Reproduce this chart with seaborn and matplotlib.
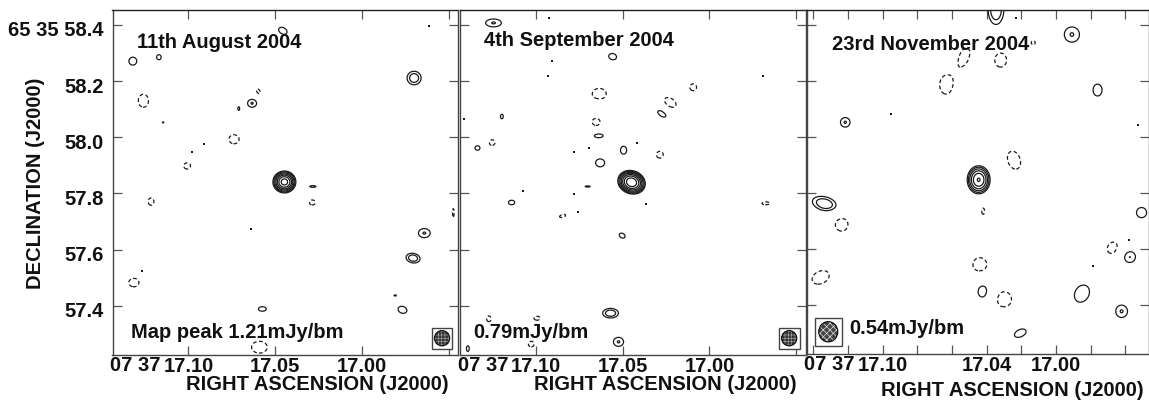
import numpy as np
import matplotlib
matplotlib.use('Agg')
import matplotlib.pyplot as plt
from matplotlib.patches import Ellipse, Rectangle
from matplotlib.transforms import ScaledTranslation
import seaborn as sns

# ---- Contour sources: RA seconds, Dec arcsec, lowest-contour semi axes (mas),
# ---- position angle on the sky image (deg), peak in units of the lowest contour
p1_ra = [17.0456, 17.1320, 17.1170, 17.1261, 17.0633, 17.0710, 17.0574, 16.9700, 17.0283, 16.9641, 16.9706, 16.9767, 17.0447,
         17.1259, 17.1142, 17.0597, 17.0737, 17.1007, 17.1215, 17.1314, 17.0591, 17.0286, 16.9474, 16.9805]
p1_dec = [58.379, 58.271, 58.285, 58.364, 58.121, 58.102, 57.389, 58.211, 57.825, 57.659, 57.570, 57.386, 57.841,
          58.130, 58.052, 58.163, 57.993, 57.898, 57.771, 57.483, 57.253, 57.768, 57.732, 57.437]
p1_a = [16, 14, 8, 4, 16, 3, 14, 25, 11, 21, 25, 16, 41,
        18, 5, 6, 18, 12, 10, 18, 28, 10, 3, 7]
p1_b = [11, 14, 9, 4, 14, 6, 8, 24, 3, 16, 17, 12, 39,
        23, 2, 10, 16, 11, 13, 15, 21, 9, 14, 2]
p1_ang = [-30, 0, 0, 0, 0, 0, 0, 0, 0, 0, -10, -20, 0,
          0, -20, 30, 0, 0, 0, 0, 0, 0, 0, 0]
p1_peak = [1.3, 1.3, 1.2, 1.2, 1.44, 1.2, 1.3, 1.8, 1.2, 1.44, 1.8, 1.3, 9.5,
           -1.3, -1.2, -1.2, -1.3, -1.3, -1.3, -1.3, -1.3, -1.2, -1.2, -1.2]

p2_ra = [17.1244, 17.0558, 17.0643, 17.0274, 17.0639, 17.0495, 17.0630, 17.0449, 17.1196, 17.1336, 17.1140, 17.0503, 17.0570, 17.0524, 17.1392, 17.0702,
         17.1252, 17.0635, 17.0226, 17.0094, 17.0653, 17.0286, 17.0846, 17.1271, 17.0993, 17.1027, 16.9675]
p2_dec = [58.407, 58.287, 58.104, 58.084, 58.006, 57.954, 57.909, 57.840, 58.074, 57.962, 57.768, 57.650, 57.374, 57.272, 57.248, 57.825,
          57.981, 58.154, 58.124, 58.178, 58.055, 57.938, 57.720, 57.354, 57.356, 57.264, 57.765]
p2_a = [28, 14, 29, 18, 18, 11, 16, 50, 5, 9, 11, 11, 28, 18, 5, 9,
        10, 25, 23, 12, 14, 12, 11, 8, 11, 10, 14]
p2_b = [14, 11, 10, 9, 8, 14, 14, 41, 8, 8, 8, 8, 17, 16, 10, 2,
        10, 20, 14, 12, 13, 12, 5, 10, 7, 10, 5]
p2_ang = [0, -15, -5, -35, 0, 0, 0, -20, 0, 0, 0, -30, 0, 0, 0, 0,
          0, 0, -35, 0, 0, 0, 15, 0, 0, 0, 0]
p2_peak = [1.44, 1.3, 1.3, 1.3, 1.3, 1.3, 1.3, 11.0, 1.2, 1.2, 1.2, 1.2, 1.8, 1.44, 1.2, 1.2,
           -1.2, -1.3, -1.3, -1.2, -1.2, -1.2, -1.2, -1.2, -1.2, -1.2, -1.2]

p3_ra = [17.1216, 17.1333, 17.0346, 16.9908, 16.9760, 16.9506, 16.9575, 17.0420, 16.9850, 16.9621, 17.0206, 17.0446,
         17.1237, 17.1358, 17.0529, 17.0319, 17.0635, 17.0242, 17.0420, 16.9673, 17.0439, 17.0300, 17.0131]
p3_dec = [58.053, 57.762, 58.455, 58.366, 58.168, 57.731, 57.573, 57.450, 57.442, 57.379, 57.301, 57.848,
          57.690, 57.500, 58.287, 58.275, 58.186, 57.918, 57.736, 57.605, 57.545, 57.422, 58.337]
p3_a = [17, 46, 28, 27, 16, 18, 21, 20, 32, 21, 22, 41,
        23, 32, 33, 21, 22, 33, 5, 22, 25, 27, 7]
p3_b = [17, 25, 53, 27, 21, 18, 20, 26, 25, 22, 13, 50,
        25, 22, 17, 25, 32, 22, 11, 18, 25, 27, 7]
p3_ang = [0, -15, 0, 0, 0, 0, 0, 0, 60, 0, 25, 0,
          0, 25, 70, 0, 0, -70, 0, 60, 0, 0, 0]
p3_peak = [1.44, 1.9, 1.9, 1.44, 1.3, 1.3, 1.44, 1.44, 1.3, 1.44, 1.3, 5.8,
           -1.3, -1.3, -1.3, -1.3, -1.3, -1.3, -1.2, -1.3, -1.3, -1.3, -1.2]

# single-pixel specks, too small to come out as a contour
p1_speck_ra = [17.0908, 17.0977, 17.0637, 17.1267, 16.9614]
p1_speck_dec = [57.975, 57.946, 57.674, 57.525, 58.396]
p2_speck_ra = [17.0927, 17.0908, 17.0929, 17.1413, 17.0781, 17.0692, 17.1073, 17.0781, 17.0758, 16.9691, 17.0417, 17.0368]
p2_speck_dec = [58.426, 58.273, 58.219, 58.065, 57.946, 57.962, 57.810, 57.799, 57.734, 58.219, 57.979, 57.763]
p3_speck_ra = [17.0229, 17.0950, 16.9529, 16.9577, 16.9785]
p3_speck_dec = [58.424, 58.084, 58.042, 57.634, 57.541]

# restoring beam: centre (RA, Dec), radii and box half sizes in mas
beam_ra = [16.9539, 16.9541, 17.1314]
beam_dec = [57.285, 57.285, 57.306]
beam_rx = [27, 27, 34]
beam_ry = [27, 27, 36]
box_hx = [37, 37, 49]
box_hy = [37, 37, 50]

# ---- Text
titles = ['11th August 2004', '4th September 2004', '23rd November 2004']
notes = ['Map peak 1.21mJy/bm', '0.79mJy/bm', '0.54mJy/bm']
dec_ticks = [58.4, 58.2, 58.0, 57.8, 57.6, 57.4]
dec_labels = ['65 35 58.4', '58.2', '58.0', '57.8', '57.6', '57.4']
ra_ticks_wide = [17.10, 17.05, 17.00, 16.95]
ra_labels_wide = ['17.10', '17.05', '17.00', '']
ra_ticks_fine = [17.14, 17.12, 17.10, 17.08, 17.06, 17.04, 17.02, 17.00, 16.98, 16.96]
ra_labels_fine = ['', '', '17.10', '', '', '17.04', '', '17.00', '', '']

LEVELS = [-1, 1, 1.41, 2, 2.83, 4, 5.66, 8]
MAS_PER_RA_S = 6200.0    # 15 * cos(dec) arcsec per second of RA
MAS_PER_DEC = 1000.0
W, H = 1149, 401
TEXT_SIZE = 14.5

sns.set_theme(style='ticks', rc={'hatch.linewidth': 0.5})
plt.rcParams['font.family'] = ['Liberation Sans', 'DejaVu Sans']
plt.rcParams['font.weight'] = 'bold'


def make_field(ra_grid, dec_grid, ra, dec, a, b, ang, peak):
    field = np.zeros_like(ra_grid)
    for r0, d0, sa, sb, th, pk in zip(ra, dec, a, b, ang, peak):
        x = -(ra_grid - r0) * MAS_PER_RA_S
        y = (dec_grid - d0) * MAS_PER_DEC
        t = np.deg2rad(th)
        u = x * np.cos(t) + y * np.sin(t)
        v = -x * np.sin(t) + y * np.cos(t)
        k = 2 * np.log(abs(pk))
        field += pk * np.exp(-0.5 * k * ((u / sa) ** 2 + (v / sb) ** 2))
    return field


def add_panel(box, xlim, ylim, ra, dec, a, b, ang, peak, speck_ra, speck_dec):
    left, right, top, bottom = box
    ax = fig.add_axes([left / W, 1 - bottom / H, (right - left) / W, (bottom - top) / H])
    xs = np.linspace(xlim[0], xlim[1], 1000)
    ys = np.linspace(ylim[0], ylim[1], 1000)
    gx, gy = np.meshgrid(xs, ys)
    ax.contour(gx, gy, make_field(gx, gy, ra, dec, a, b, ang, peak), levels=LEVELS,
               colors='k', linewidths=0.9,
               linestyles=[(0, (3.0, 2.0))] + ['solid'] * (len(LEVELS) - 1))
    sns.scatterplot(x=speck_ra, y=speck_dec, ax=ax, s=3, color='k', marker='s',
                    linewidth=0, legend=False)
    ax.set_xlim(xlim)
    ax.set_ylim(ylim)
    ax.set_xlabel('')
    ax.set_ylabel('')
    for side in ['top', 'right', 'left', 'bottom']:
        ax.spines[side].set_visible(True)
        ax.spines[side].set_linewidth(1.0)
        ax.spines[side].set_color('#444444')
    ax.spines['top'].set_color('#222222')
    ax.tick_params(which='both', direction='in', top=True, right=True, length=6.5,
                   width=0.9, color='#555555', labelsize=TEXT_SIZE, labelcolor='#111111', pad=2)
    return ax


def add_beam(ax, i, hatch, face, edge):
    hx = box_hx[i] / MAS_PER_RA_S
    hy = box_hy[i] / MAS_PER_DEC
    ax.add_patch(Rectangle((beam_ra[i] - hx, beam_dec[i] - hy), 2 * hx, 2 * hy, facecolor='white',
                           edgecolor='#444444', linewidth=1.0, zorder=4))
    ax.add_patch(Ellipse((beam_ra[i], beam_dec[i]), 2 * beam_rx[i] / MAS_PER_RA_S, 2 * beam_ry[i] / MAS_PER_DEC,
                         facecolor=face, edgecolor=edge, hatch=hatch, linewidth=0, zorder=5))
    ax.add_patch(Ellipse((beam_ra[i], beam_dec[i]), 2 * beam_rx[i] / MAS_PER_RA_S, 2 * beam_ry[i] / MAS_PER_DEC,
                         fill=False, edgecolor='#111111', linewidth=0.9, zorder=6))


def fig_text(x, y, s, **kw):
    fig.text(x / W, 1 - y / H, s, fontsize=TEXT_SIZE, fontweight='bold',
             color='#111111', va='center', **kw)


fig = plt.figure(figsize=(W / 100, H / 100), dpi=100)

ax1 = add_panel((112.5, 457.5, 10, 354.5), (17.1437, 16.9450), (57.227, 58.453),
                p1_ra, p1_dec, p1_a, p1_b, p1_ang, p1_peak, p1_speck_ra, p1_speck_dec)
ax2 = add_panel((459.5, 805.5, 10, 354.5), (17.1440, 16.9447), (57.227, 58.453),
                p2_ra, p2_dec, p2_a, p2_b, p2_ang, p2_peak, p2_speck_ra, p2_speck_dec)
ax3 = add_panel((807.3, 1149, 10.3, 353.5), (17.1435, 16.9463), (57.2285, 58.4525),
                p3_ra, p3_dec, p3_a, p3_b, p3_ang, p3_peak, p3_speck_ra, p3_speck_dec)

ax1.set_xticks(ra_ticks_wide, ra_labels_wide)
ax2.set_xticks(ra_ticks_wide, ra_labels_wide)
ax3.set_xticks(ra_ticks_fine, ra_labels_fine)
for ax in (ax1, ax2, ax3):
    ax.set_yticks(dec_ticks, [''] * len(dec_ticks))
ax1.set_yticks(dec_ticks, dec_labels)
ax1.tick_params(axis='y', pad=6.5)
shift = ScaledTranslation(0, -4 / 100, fig.dpi_scale_trans)
for lab in ax1.get_yticklabels():
    lab.set_transform(lab.get_transform() + shift)

add_beam(ax1, 0, '+++++', '#333333', '#999999')
add_beam(ax2, 1, '+++++', '#333333', '#999999')
add_beam(ax3, 2, 'xxxxx', '#444444', '#dddddd')

# sexagesimal prefix sits left of the first RA label
fig_text(160, 365.5, '07 37', ha='right')
fig_text(508, 365.5, '07 37', ha='right')
fig_text(854, 364.5, '07 37', ha='right')

fig_text(36, 183, 'DECLINATION (J2000)', rotation=90, ha='center')
fig_text(317.5, 385, 'RIGHT ASCENSION (J2000)', ha='center')
fig_text(665, 385, 'RIGHT ASCENSION (J2000)', ha='center')
fig_text(1012, 390, 'RIGHT ASCENSION (J2000)', ha='center')

fig_text(137, 43, titles[0])
fig_text(484, 41, titles[1])
fig_text(832, 45, titles[2])
fig_text(131, 332, notes[0])
fig_text(473, 332, notes[1])
fig_text(849, 328, notes[2])

fig.savefig('out.png', dpi=100)
